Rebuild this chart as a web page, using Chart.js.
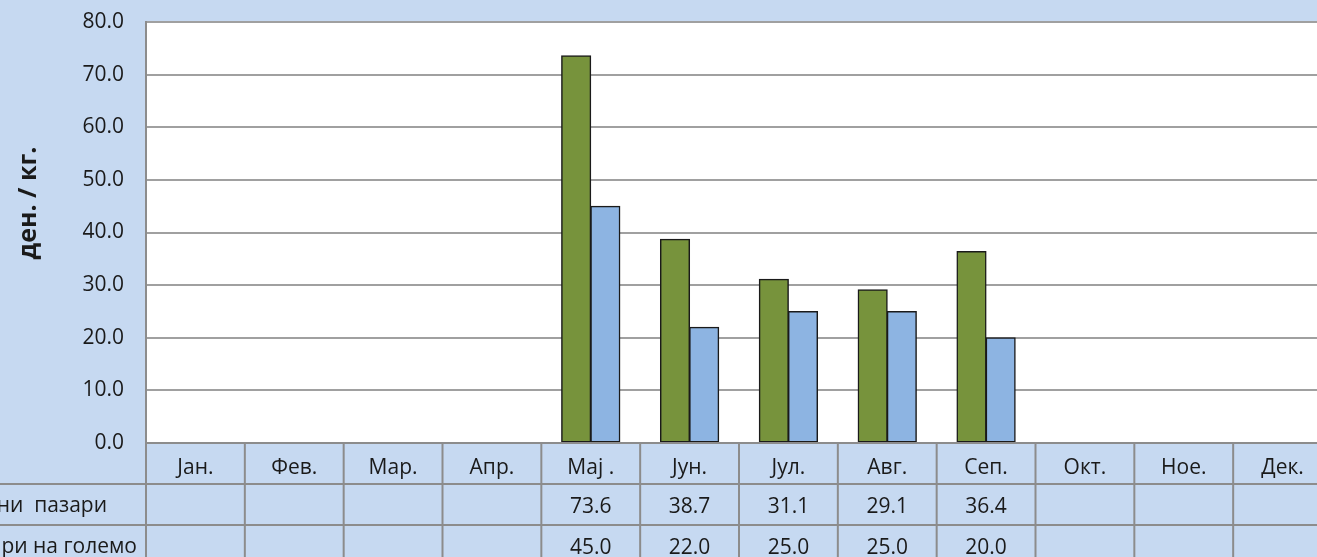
<!DOCTYPE html>
<html><head><meta charset="utf-8">
<script src="https://cdn.jsdelivr.net/npm/chart.js@4/dist/chart.umd.min.js"></script>
<style>
html,body{margin:0;padding:0;overflow:hidden;background:#C6D9F1;width:1317px;height:557px}
#wrap{position:absolute;left:0;top:0;width:1332px;height:557px}
</style>
</head><body><div id="wrap"><canvas id="c" width="1332" height="557"></canvas></div>
<script>
const months = ['Јан.','Фев.','Мар.','Апр.','Мај .','Јун.','Јул.','Авг.','Сеп.','Окт.','Ное.','Дек.'];
const seriesNames = ['Зелени  пазари', 'Пазари на големо'];
const greenMarkets = [null,null,null,null,73.6,38.7,31.1,29.1,36.4,null,null,null];
const wholesaleMarkets = [null,null,null,null,45.0,22.0,25.0,25.0,20.0,null,null,null];
const yMin = 0, yMax = 80, yStep = 10;
const yTitle = 'ден. / кг.';

const BG = '#C6D9F1';
const TXT = '#1a1a1a';
const FONT = '"Open Sans", "Noto Sans", sans-serif';

const tablePlugin = {
  id: 'tablePlugin',
  beforeDraw(chart) {
    const {ctx, chartArea: a} = chart;
    ctx.save();
    ctx.fillStyle = BG;
    ctx.fillRect(0, 0, chart.width, chart.height);
    ctx.fillStyle = '#ffffff';
    ctx.fillRect(a.left, a.top, a.right - a.left, a.bottom - a.top);
    ctx.restore();
  },
  afterDraw(chart) {
    const {ctx, chartArea: a} = chart;
    const xs = chart.scales.x;
    const half = (xs.getPixelForValue(1) - xs.getPixelForValue(0)) / 2;
    const rowH = [41, 41, 41];
    const y0 = a.bottom;
    const y1 = y0 + rowH[0];
    const y2 = y1 + rowH[1];
    const y3 = y2 + rowH[2];
    ctx.save();
    ctx.strokeStyle = '#8c8c8c';
    ctx.lineWidth = 2;
    ctx.beginPath();
    ctx.moveTo(a.left, y0); ctx.lineTo(chart.width, y0);
    ctx.moveTo(0, y1); ctx.lineTo(chart.width, y1);
    ctx.moveTo(0, y2); ctx.lineTo(chart.width, y2);
    ctx.moveTo(a.left, a.top); ctx.lineTo(a.left, y3);
    for (let i = 0; i < months.length; i++) {
      const xr = xs.getPixelForValue(i) + half;
      ctx.moveTo(xr, y0); ctx.lineTo(xr, y3);
    }
    ctx.stroke();

    ctx.fillStyle = TXT;
    ctx.font = '21px ' + FONT;
    ctx.textBaseline = 'alphabetic';
    ctx.textAlign = 'center';
    const rows = [greenMarkets, wholesaleMarkets];
    for (let i = 0; i < months.length; i++) {
      const cx = xs.getPixelForValue(i);
      ctx.fillText(months[i], cx, y0 + 31);
      rows.forEach((r, k) => {
        if (r[i] !== null && r[i] !== undefined) {
          ctx.fillText(r[i].toFixed(1), cx, (k === 0 ? y1 : y2) + 29);
        }
      });
    }
    ctx.textAlign = 'right';
    ctx.fillText(seriesNames[0], 107, y1 + 28);
    ctx.fillText(seriesNames[1], 137, y2 + 28);

    // y axis title
    ctx.font = 'bold 25px ' + FONT;
    ctx.textAlign = 'center';
    ctx.textBaseline = 'middle';
    ctx.translate(29, 203);
    ctx.rotate(-Math.PI / 2);
    ctx.fillText(yTitle, 0, 0);
    ctx.restore();
  }
};

new Chart(document.getElementById('c'), {
  type: 'bar',
  data: {
    labels: months,
    datasets: [
      { label: seriesNames[0], data: greenMarkets, backgroundColor: '#77933C', borderColor: '#1a1a1a', borderWidth: 1.5, borderSkipped: false, inflateAmount: 0.5 },
      { label: seriesNames[1], data: wholesaleMarkets, backgroundColor: '#8DB4E2', borderColor: '#1a1a1a', borderWidth: 1.5, borderSkipped: false, inflateAmount: 0.5 }
    ]
  },
  options: {
    responsive: false,
    animation: false,
    devicePixelRatio: 1,
    layout: { padding: { top: 22, left: 0, right: 0, bottom: 0 } },
    datasets: { bar: { categoryPercentage: 0.59, barPercentage: 1.0 } },
    plugins: { legend: { display: false }, tooltip: { enabled: false }, title: { display: false } },
    scales: {
      x: {
        grid: { display: false, drawTicks: false },
        border: { display: false },
        ticks: { display: false },
        afterFit(s) { s.height = 114; s.paddingLeft = 0; s.paddingRight = 0; }
      },
      y: {
        min: yMin, max: yMax,
        grid: { color: '#a0a0a0', lineWidth: 2, drawTicks: false },
        border: { display: true, color: '#8c8c8c', width: 2 },
        ticks: {
          stepSize: yStep, padding: 22, color: TXT,
          font: { family: FONT, size: 21 },
          callback: v => Number(v).toFixed(1)
        },
        afterFit(s) { s.width = 146; s.paddingTop = 0; s.paddingBottom = 0; }
      }
    }
  },
  plugins: [tablePlugin]
});
</script>
</body></html>
